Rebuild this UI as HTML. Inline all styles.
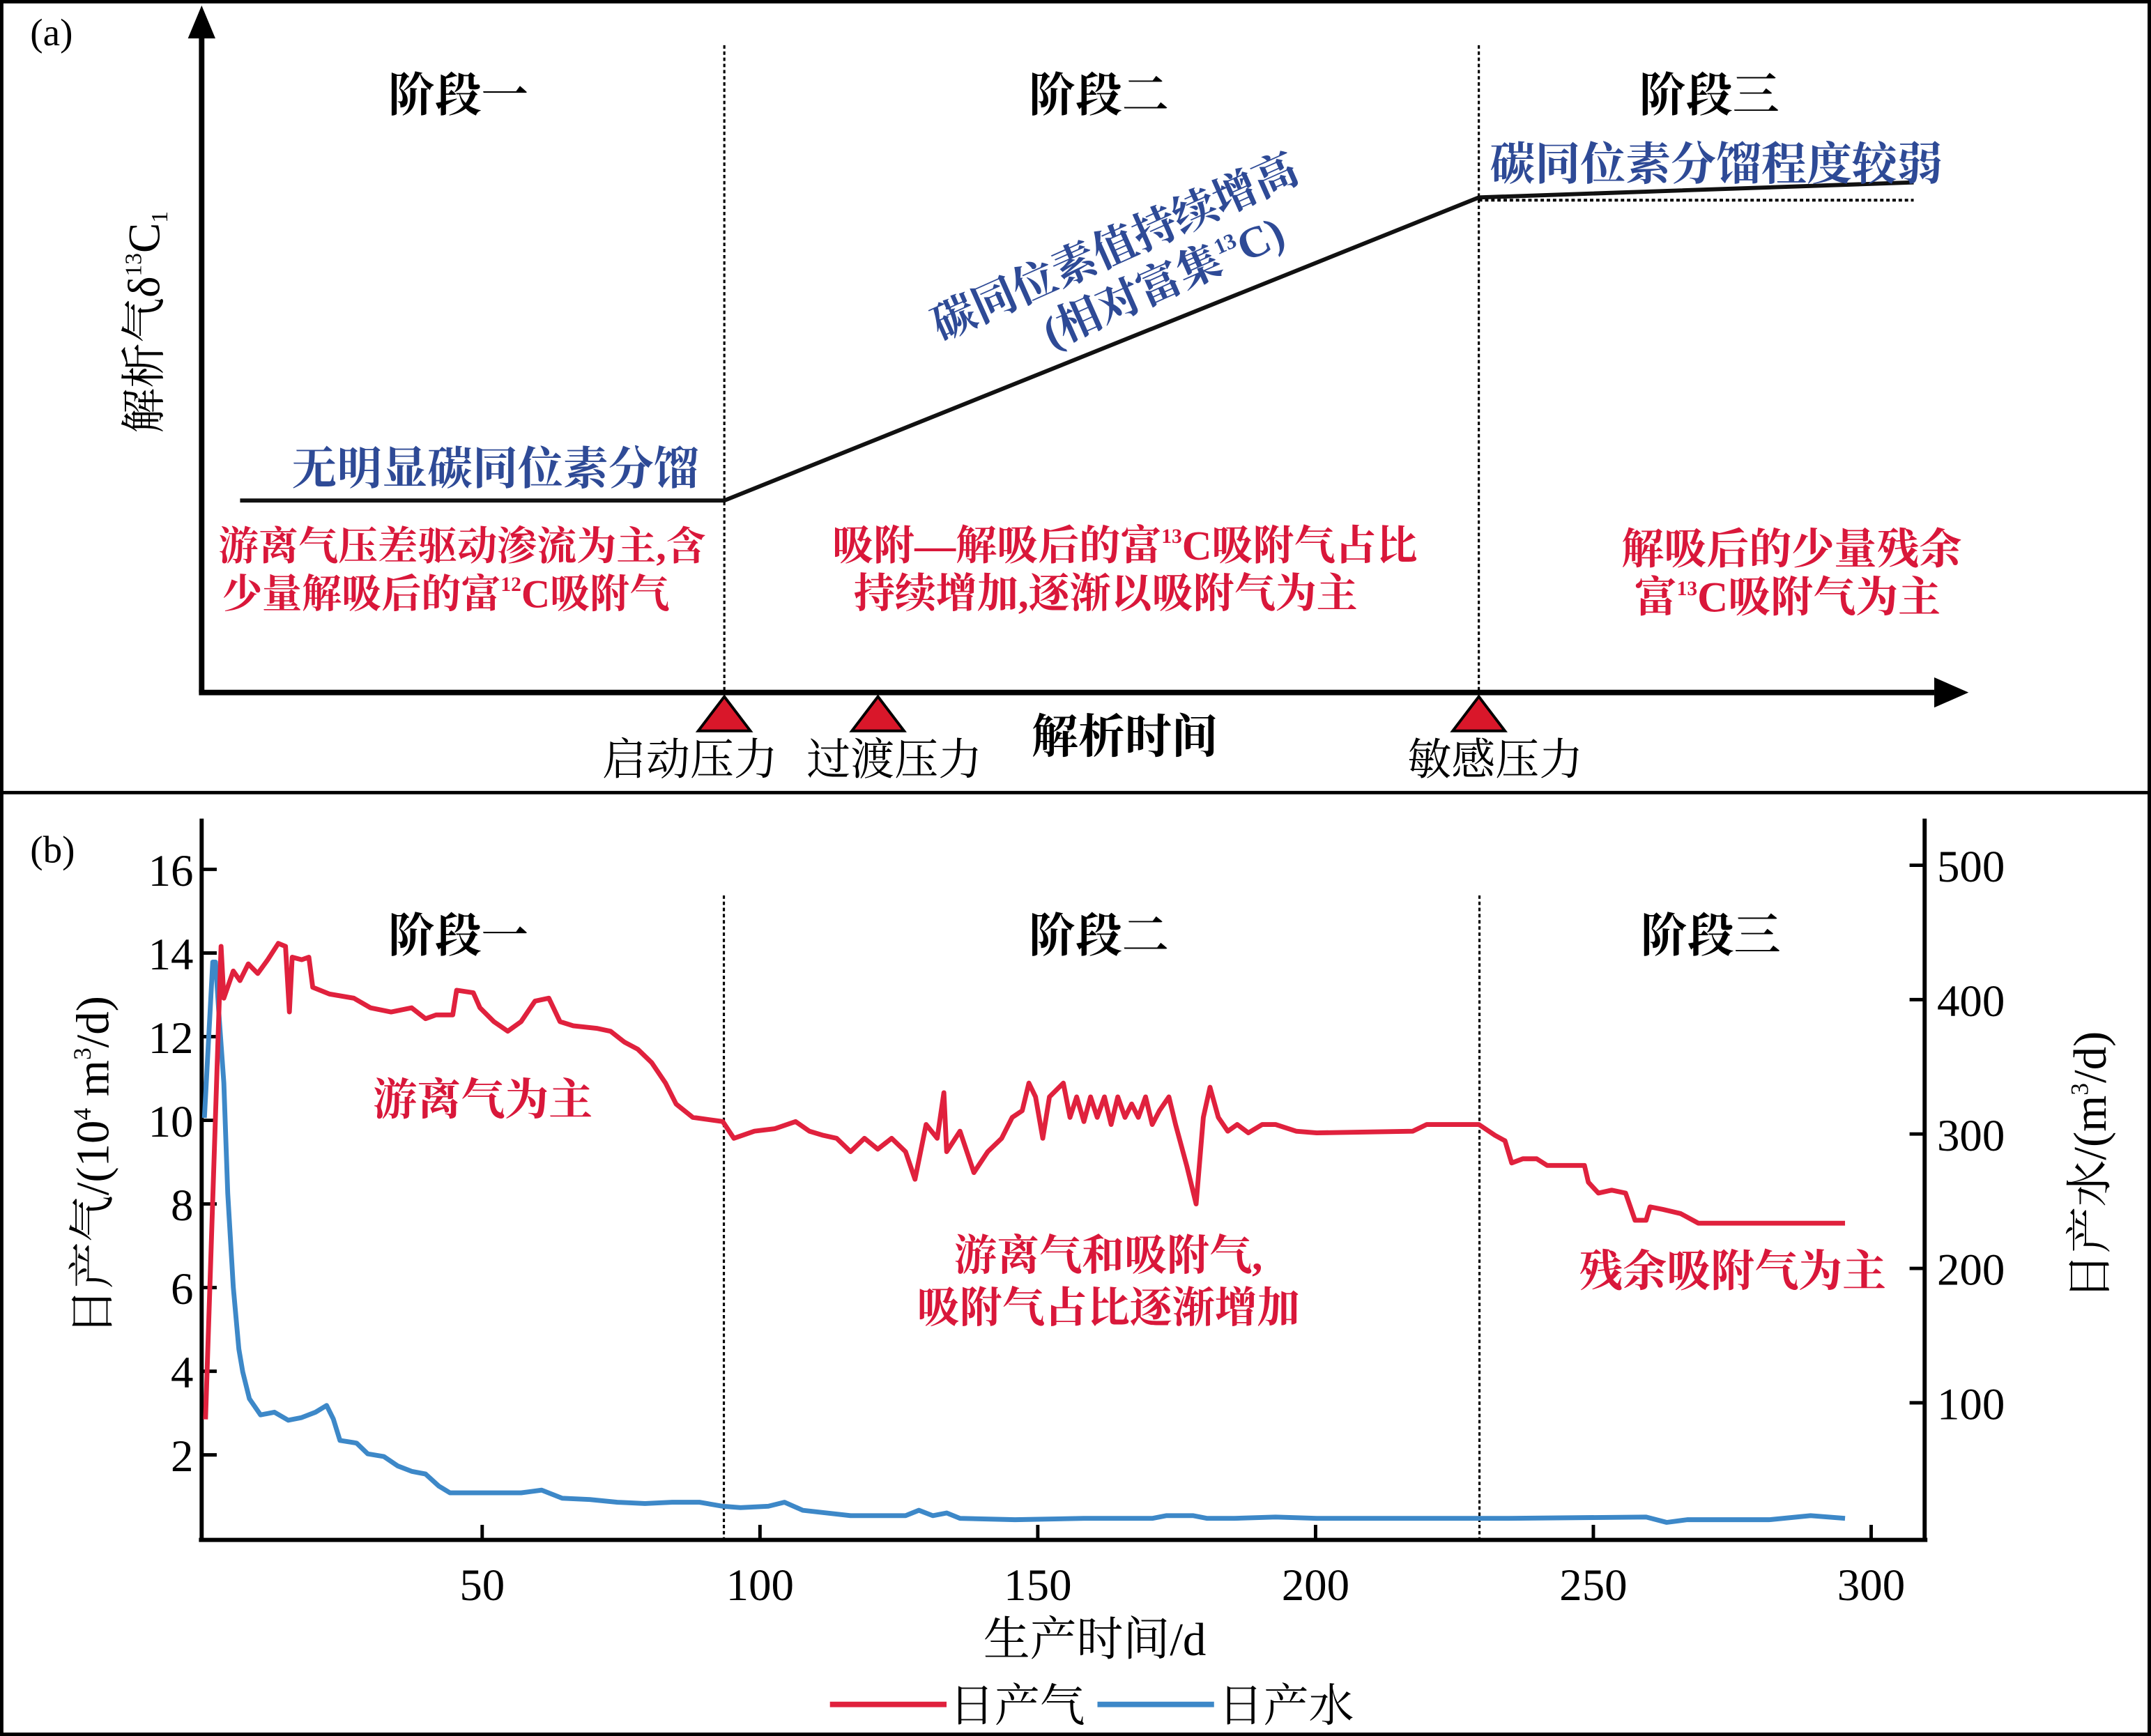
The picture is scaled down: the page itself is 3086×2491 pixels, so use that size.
<!DOCTYPE html>
<html><head><meta charset="utf-8"><style>
html,body{margin:0;padding:0;background:#fff;}
svg{display:block;}
text{font-family:"Liberation Serif","Noto Serif CJK SC",serif;}
.cj{font-family:"Liberation Serif","Noto Serif CJK SC",serif;font-weight:bold;}
</style></head><body>
<svg width="3086" height="2491" viewBox="0 0 1568 1266" preserveAspectRatio="none" xmlns="http://www.w3.org/2000/svg">
<rect x="1" y="1" width="1566" height="1264" fill="#fff" stroke="#000" stroke-width="3"/>
<line x1="0" y1="578" x2="1568" y2="578" stroke="#000" stroke-width="2.5"/>

<g>
<text x="22" y="33" font-size="28">(a)</text>
<line x1="147" y1="505" x2="147" y2="22" stroke="#000" stroke-width="4"/>
<polygon points="147,4 137,28 157,28" fill="#000"/>
<line x1="145" y1="505" x2="1410" y2="505" stroke="#000" stroke-width="4"/>
<polygon points="1435,505 1410,494 1410,516" fill="#000"/>
<line x1="528" y1="33" x2="528" y2="505" stroke="#000" stroke-width="1.6" stroke-dasharray="2.5,2"/>
<line x1="1078" y1="33" x2="1078" y2="505" stroke="#000" stroke-width="1.6" stroke-dasharray="2.5,2"/>
<polyline points="175,365 528,365 1078,144 1395,133" fill="none" stroke="#111" stroke-width="3"/>
<line x1="1078" y1="146" x2="1395" y2="146" stroke="#000" stroke-width="2" stroke-dasharray="2.5,2"/>
<text x="334" y="81" font-size="34" text-anchor="middle" class="cj">阶段一</text>
<text x="801" y="81" font-size="34" text-anchor="middle" class="cj">阶段二</text>
<text x="1246" y="81" font-size="34" text-anchor="middle" class="cj">阶段三</text>
<text transform="translate(116,235) rotate(-90)" font-size="33" text-anchor="middle">解析气δ<tspan font-size="17" dy="-13">13</tspan><tspan dy="13">C</tspan><tspan font-size="17" dy="6">1</tspan></text>
<text x="361" y="353" font-size="33" fill="#2e4a96" text-anchor="middle" class="cj">无明显碳同位素分馏</text>
<text x="1251" y="131" font-size="33" fill="#2e4a96" text-anchor="middle" class="cj">碳同位素分馏程度较弱</text>
<g transform="translate(817,190) rotate(-24)">
<text x="0" y="0" font-size="32" fill="#2e4a96" text-anchor="middle" class="cj">碳同位素值持续增高</text>
<text x="22" y="38" font-size="32" fill="#2e4a96" text-anchor="middle" class="cj">(相对富集<tspan font-size="16" dy="-13">13</tspan><tspan dy="13">C)</tspan></text>
</g>
<g fill="#d9173a" text-anchor="middle">
<text x="337" y="408" font-size="29" class="cj">游离气压差驱动渗流为主,含</text>
<text x="325" y="443" font-size="29" class="cj">少量解吸后的富<tspan font-size="15" dy="-12">12</tspan><tspan dy="12">C吸附气</tspan></text>
<text x="820" y="408" font-size="30" class="cj">吸附—解吸后的富<tspan font-size="15" dy="-12">13</tspan><tspan dy="12">C吸附气占比</tspan></text>
<text x="806" y="443" font-size="30" class="cj">持续增加,逐渐以吸附气为主</text>
<text x="1306" y="411" font-size="31" class="cj">解吸后的少量残余</text>
<text x="1303" y="446" font-size="31" class="cj">富<tspan font-size="15" dy="-12">13</tspan><tspan dy="12">C吸附气为主</tspan></text>
</g>
<polygon points="528,508 509,533 547,533" fill="#d9172a" stroke="#000" stroke-width="2"/>
<polygon points="640,508 621,533 659,533" fill="#d9172a" stroke="#000" stroke-width="2"/>
<polygon points="1078,508 1059,533 1097,533" fill="#d9172a" stroke="#000" stroke-width="2"/>
<text x="503" y="565" font-size="32" text-anchor="middle">启动压力</text>
<text x="652" y="565" font-size="32" text-anchor="middle">过渡压力</text>
<text x="820" y="549" font-size="34" text-anchor="middle" class="cj">解析时间</text>
<text x="1090" y="565" font-size="32" text-anchor="middle">敏感压力</text>
</g>

<g id="pb">
<text x="22" y="629" font-size="28">(b)</text>
<line x1="147" y1="597" x2="147" y2="1124" stroke="#000" stroke-width="3"/>
<line x1="1403" y1="597" x2="1403" y2="1124" stroke="#000" stroke-width="3"/>
<line x1="145" y1="1123" x2="1405" y2="1123" stroke="#000" stroke-width="3"/>
<text x="334" y="694" font-size="34" text-anchor="middle" class="cj">阶段一</text>
<text x="801" y="694" font-size="34" text-anchor="middle" class="cj">阶段二</text>
<text x="1247" y="694" font-size="34" text-anchor="middle" class="cj">阶段三</text>
<text x="352" y="813" font-size="32" fill="#d9173a" text-anchor="middle" class="cj">游离气为主</text>
<text x="808" y="926" font-size="31" fill="#d9173a" text-anchor="middle" class="cj">游离气和吸附气,</text>
<text x="808" y="964" font-size="31" fill="#d9173a" text-anchor="middle" class="cj">吸附气占比逐渐增加</text>
<text x="1263" y="938" font-size="32" fill="#d9173a" text-anchor="middle" class="cj">残余吸附气为主</text>
<text transform="translate(79,850) rotate(-90)" font-size="34" text-anchor="middle">日产气/(10<tspan font-size="18" dy="-13">4</tspan><tspan dy="13"> m</tspan><tspan font-size="18" dy="-13">3</tspan><tspan dy="13">/d)</tspan></text>
<text transform="translate(1535,850) rotate(-90)" font-size="34" text-anchor="middle">日产水/(m<tspan font-size="18" dy="-13">3</tspan><tspan dy="13">/d)</tspan></text>
<text x="798" y="1207" font-size="34" text-anchor="middle">生产时间/d</text>
<line x1="605" y1="1243" x2="690" y2="1243" stroke="#e0213d" stroke-width="4"/>
<text x="692" y="1255" font-size="33">日产气</text>
<line x1="800" y1="1243" x2="885" y2="1243" stroke="#3d88c8" stroke-width="4"/>
<text x="888" y="1255" font-size="33">日产水</text>
</g>
</svg>
<script>
const gasDays=[0.2,3.0,3.5,5.2,6.4,7.9,9.6,11.4,13.3,14.6,15.3,15.8,17.5,18.8,19.5,22.5,26.9,29.9,33.6,37.3,39.8,41.7,44.7,45.4,48.4,49.6,52.1,54.6,57.0,59.5,62.0,64.0,66.4,70.6,73.1,75.6,78.0,80.5,83.0,84.9,87.9,93.3,95.3,99.0,102.7,106.4,108.9,111.4,113.8,116.3,118.8,121.2,123.7,126.2,127.9,129.9,131.9,133.1,133.6,136.0,138.5,141.0,143.5,145.4,147.2,148.4,149.6,150.9,152.1,154.6,155.8,157.0,158.3,159.5,160.7,162.0,163.2,164.4,165.7,166.9,168.1,169.4,170.6,171.9,173.6,174.8,176.8,178.5,179.8,181.0,182.5,184.2,185.9,187.9,190.4,192.8,196.5,200.2,217.5,220.0,229.4,232.3,234.1,235.3,237.3,239.8,241.7,248.4,249.1,250.9,253.3,255.8,257.5,259.5,260.2,262.5,265.7,268.9,284.2,295.3];
const gasValues=[2.85,14.16,12.92,13.57,13.34,13.74,13.51,13.84,14.23,14.16,12.59,13.90,13.84,13.90,13.18,13.02,12.92,12.69,12.59,12.69,12.43,12.52,12.52,13.11,13.05,12.69,12.36,12.13,12.36,12.85,12.92,12.36,12.26,12.20,12.13,11.87,11.70,11.38,10.89,10.39,10.07,9.97,9.57,9.74,9.80,9.97,9.74,9.64,9.57,9.25,9.57,9.31,9.57,9.25,8.59,9.90,9.57,10.66,9.25,9.74,8.75,9.25,9.57,10.07,10.23,10.89,10.56,9.57,10.56,10.89,10.07,10.56,9.97,10.56,10.07,10.56,9.90,10.56,10.07,10.39,10.07,10.56,9.90,10.23,10.56,9.90,8.92,8.00,10.07,10.79,10.07,9.74,9.90,9.70,9.90,9.90,9.74,9.70,9.74,9.90,9.90,9.64,9.51,8.98,9.08,9.08,8.92,8.92,8.52,8.26,8.33,8.26,7.61,7.61,7.93,7.87,7.77,7.54,7.54,7.54];
const waterDays=[0,1.5,2,2.7,3.5,4.2,5.2,6.2,6.9,8.1,10.1,12.6,15.1,17.5,20,22,23.2,24.4,27.4,29.4,32.3,34.8,37.3,39.8,42.2,44.2,49.6,57,60.7,64.4,69.4,74.3,79.3,84.2,89.1,93.3,96.5,101.5,104.4,107.7,116.3,126.2,128.6,131.1,133.6,136,145.9,158.3,170.6,173.1,178,180.5,185.4,192.8,200.2,234.8,259.5,263.2,266.9,281.7,289.1,295.3];
const waterValues=[312,428,428,384,338,256,186,140,123,103,91,93,87,89,93,98,88,72,70,62,60,53,49,47,38,33,33,33,35,29,28,26,25,26,26,23,22,23,26,20,16,16,20,16,18,14,13,14,14,16,16,14,14,15,14,14,15,11,13,13,16,14];
const xTicks=[50,100,150,200,250,300];
const gasTicks=[2,4,6,8,10,12,14,16];
const waterTicks=[100,200,300,400,500];
const stageBounds=[93.5,229.5];
const NS='http://www.w3.org/2000/svg';
const xS=d=>149+4.05*d, gS=v=>1122-30.5*v, wS=v=>1121-0.98*v;
const pb=document.getElementById('pb');
function mk(tag,attrs){const e=document.createElementNS(NS,tag);for(const k in attrs)e.setAttribute(k,attrs[k]);pb.appendChild(e);return e;}
stageBounds.forEach(d=>{
 const l=mk('line',{x1:xS(d),x2:xS(d),y1:653,y2:1123,stroke:'#000','stroke-width':1.6,'stroke-dasharray':'2.5,2'});
 
 
});
xTicks.forEach(t=>{
 const l=mk('line',{x1:xS(t),x2:xS(t),y1:1123,y2:1112,stroke:'#000','stroke-width':2.5});
 
 
 const tx=mk('text',{x:xS(t),y:1167,'font-size':33,'text-anchor':'middle'});tx.textContent=t;
 
 
});
gasTicks.forEach(t=>{
 const l=mk('line',{x1:147,x2:158,y1:gS(t),y2:gS(t),stroke:'#000','stroke-width':2.5});
 
 
 const tx=mk('text',{x:141,y:gS(t)+12,'font-size':33,'text-anchor':'end'});tx.textContent=t;
 
 
});
waterTicks.forEach(t=>{
 const l=mk('line',{x1:1392,x2:1403,y1:wS(t),y2:wS(t),stroke:'#000','stroke-width':2.5});
 
 
 const tx=mk('text',{x:1412,y:wS(t)+12,'font-size':33,'text-anchor':'start'});tx.textContent=t;
 
 
});
const wl=mk('polyline',{points:waterDays.map((d,i)=>xS(d)+','+wS(waterValues[i])).join(' '),fill:'none',stroke:'#3d88c8','stroke-width':3.5,'stroke-linejoin':'round'});


const gl=mk('polyline',{points:gasDays.map((d,i)=>xS(d)+','+gS(gasValues[i])).join(' '),fill:'none',stroke:'#e0213d','stroke-width':3.5,'stroke-linejoin':'round'});


</script>
</body></html>
